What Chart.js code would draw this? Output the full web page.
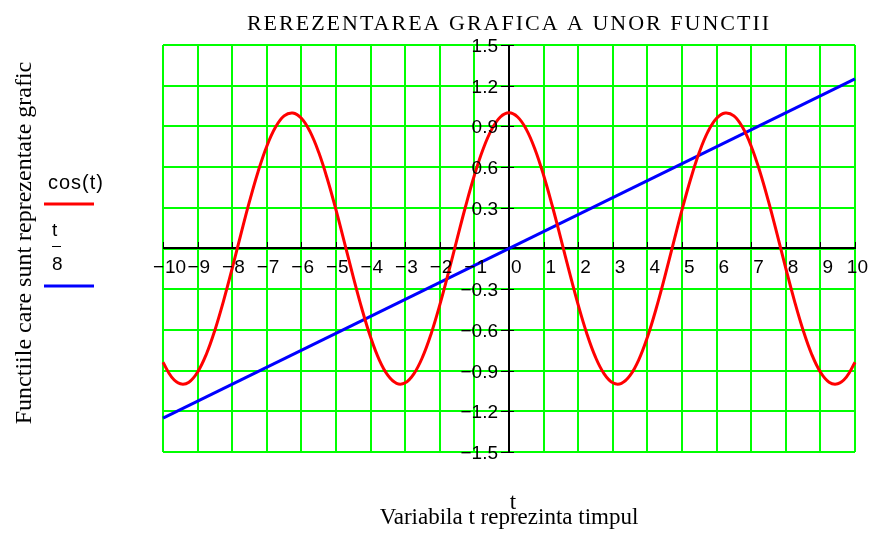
<!DOCTYPE html>
<html>
<head>
<meta charset="utf-8">
<title>Rerezentarea grafica a unor functii</title>
<script src="https://cdn.jsdelivr.net/npm/chart.js@4.4.0/dist/chart.umd.min.js"></script>
<style>
  html, body { margin: 0; padding: 0; background: #fff; }
  #plot { display: block; }
</style>
</head>
<body>
<canvas id="plot" width="872" height="538"></canvas>
<script>
// sample points of t and cos(t), step 0.25
const tSamples = [
  -10, -9.75, -9.5, -9.25, -9, -8.75, -8.5, -8.25, -8, -7.75,
  -7.5, -7.25, -7, -6.75, -6.5, -6.25, -6, -5.75, -5.5, -5.25,
  -5, -4.75, -4.5, -4.25, -4, -3.75, -3.5, -3.25, -3, -2.75,
  -2.5, -2.25, -2, -1.75, -1.5, -1.25, -1, -0.75, -0.5, -0.25,
  0,
  0.25, 0.5, 0.75, 1, 1.25, 1.5, 1.75, 2, 2.25, 2.5,
  2.75, 3, 3.25, 3.5, 3.75, 4, 4.25, 4.5, 4.75, 5,
  5.25, 5.5, 5.75, 6, 6.25, 6.5, 6.75, 7, 7.25, 7.5,
  7.75, 8, 8.25, 8.5, 8.75, 9, 9.25, 9.5, 9.75, 10
];
const cosValues = [
  -0.839, -0.948, -0.997, -0.985, -0.911, -0.781, -0.602, -0.386, -0.146, 0.104,
  0.347, 0.568, 0.754, 0.893, 0.977, 0.999, 0.960, 0.861, 0.709, 0.512,
  0.284, 0.038, -0.211, -0.446, -0.654, -0.821, -0.936, -0.994, -0.990, -0.924,
  -0.801, -0.628, -0.416, -0.178, 0.071, 0.315, 0.540, 0.732, 0.878, 0.969,
  1.000,
  0.969, 0.878, 0.732, 0.540, 0.315, 0.071, -0.178, -0.416, -0.628, -0.801,
  -0.924, -0.990, -0.994, -0.936, -0.821, -0.654, -0.446, -0.211, 0.038, 0.284,
  0.512, 0.709, 0.861, 0.960, 0.999, 0.977, 0.893, 0.754, 0.568, 0.347,
  0.104, -0.146, -0.386, -0.602, -0.781, -0.911, -0.985, -0.997, -0.948, -0.839
];
// t/8 straight line
const lineT = [-10, 10];
const lineValues = [-1.25, 1.25];

const xTickLabels = ['-10', '-9', '-8', '-7', '-6', '-5', '-4', '-3', '-2', '-1', '0',
                     '1', '2', '3', '4', '5', '6', '7', '8', '9', '10'];
const yTickLabels = ['1.5', '1.2', '0.9', '0.6', '0.3', '-0.3', '-0.6', '-0.9', '-1.2', '-1.5'];

const SERIF = '"Liberation Serif", "Times New Roman", serif';
const SANS = '"Liberation Sans", Arial, sans-serif';
const GRID_GREEN = '#00ff00';

// axes crossing at the origin, tick marks, labels and captions
const crossAxes = {
  id: 'crossAxes',
  beforeDatasetsDraw(chart) {
    const { ctx, chartArea: area, scales: { x, y } } = chart;
    const x0 = Math.round(x.getPixelForValue(0));
    const y0 = Math.round(y.getPixelForValue(0));
    ctx.save();
    ctx.strokeStyle = '#000';
    ctx.lineWidth = 2;
    ctx.beginPath();
    ctx.moveTo(area.left, y0 - 1);
    ctx.lineTo(area.right, y0 - 1);
    ctx.moveTo(x0, area.top);
    ctx.lineTo(x0, area.bottom);
    ctx.stroke();

    ctx.lineWidth = 1;
    ctx.beginPath();
    xTickLabels.forEach(lbl => {
      const px = Math.round(x.getPixelForValue(parseFloat(lbl))) + 0.5;
      ctx.moveTo(px, y0 - 7);
      ctx.lineTo(px, y0);
    });
    yTickLabels.forEach(lbl => {
      const py = Math.round(y.getPixelForValue(parseFloat(lbl))) + 0.5;
      ctx.moveTo(x0 - 8, py);
      ctx.lineTo(x0 + 5, py);
    });
    ctx.stroke();
    ctx.restore();
  },
  afterDraw(chart) {
    const { ctx, chartArea: area, scales: { x, y } } = chart;
    const x0 = Math.round(x.getPixelForValue(0));
    const y0 = Math.round(y.getPixelForValue(0));
    const cx = (area.left + area.right) / 2;
    ctx.save();
    ctx.fillStyle = '#000';

    // tick labels; the last one is pulled back so it stays on the canvas
    ctx.font = '19px ' + SANS;
    ctx.textBaseline = 'alphabetic';
    xTickLabels.forEach(lbl => {
      const v = parseFloat(lbl);
      const px = x.getPixelForValue(v);
      const digits = String(Math.abs(v));
      const w = ctx.measureText(digits).width;
      const left = Math.min(px + 2, area.right + 13 - w);
      ctx.textAlign = 'left';
      ctx.fillText(digits, left, y0 + 24);
      if (v < 0) {
        ctx.textAlign = 'right';
        ctx.fillText('\u2212', left - 1, y0 + 24);
      }
    });
    ctx.textAlign = 'right';
    yTickLabels.forEach(lbl => {
      const py = y.getPixelForValue(parseFloat(lbl));
      ctx.fillText(lbl.replace('-', '\u2212'), x0 - 11, py + 7);
    });

    // title
    ctx.font = '22px ' + SERIF;
    ctx.textAlign = 'center';
    ctx.letterSpacing = '2px';
    ctx.fillText('REREZENTAREA GRAFICA A UNOR FUNCTII', cx, 30);
    ctx.letterSpacing = '0px';

    // x caption
    ctx.font = '23px ' + SERIF;
    ctx.fillText('t', cx + 4, 509);
    ctx.fillText('Variabila t reprezinta timpul', cx, 524);

    // y caption
    ctx.save();
    ctx.font = '24px ' + SERIF;
    ctx.translate(31, 243);
    ctx.rotate(-Math.PI / 2);
    ctx.fillText('Functiile care sunt reprezentate grafic', 0, 0);
    ctx.restore();

    // legend
    ctx.textAlign = 'left';
    ctx.font = '20px ' + SANS;
    ctx.letterSpacing = '1px';
    ctx.fillText('cos(t)', 48, 189);
    ctx.letterSpacing = '0px';
    ctx.font = '19px ' + SANS;
    ctx.fillText('t', 52, 236);
    ctx.fillText('8', 52, 270);
    ctx.fillRect(52, 246, 9, 1);

    ctx.lineWidth = 3;
    ctx.strokeStyle = chart.data.datasets[0].borderColor;
    ctx.beginPath();
    ctx.moveTo(44, 204);
    ctx.lineTo(94, 204);
    ctx.stroke();
    ctx.strokeStyle = chart.data.datasets[1].borderColor;
    ctx.beginPath();
    ctx.moveTo(44, 286);
    ctx.lineTo(94, 286);
    ctx.stroke();
    ctx.restore();
  }
};

function createFunctionPlot() {
  const canvas = document.getElementById('plot');
  if (!canvas) return;

  new Chart(canvas, {
    type: 'scatter',
    data: {
      datasets: [{
        label: 'cos(t)',
        data: tSamples.map((t, i) => ({ x: t, y: cosValues[i] })),
        showLine: true,
        borderColor: '#ff0000',
        borderWidth: 3,
        pointRadius: 0,
        tension: 0.4,
        clip: false
      }, {
        label: 't/8',
        data: lineT.map((t, i) => ({ x: t, y: lineValues[i] })),
        showLine: true,
        borderColor: '#0000ff',
        borderWidth: 3,
        pointRadius: 0,
        clip: false
      }]
    },
    options: {
      responsive: false,
      animation: false,
      devicePixelRatio: 1,
      layout: { padding: { left: 163, top: 45, right: 17, bottom: 86 } },
      plugins: {
        legend: { display: false },
        title: { display: false },
        tooltip: { enabled: false }
      },
      scales: {
        x: {
          type: 'linear',
          min: -10,
          max: 10,
          ticks: { stepSize: 1, display: false },
          grid: { color: GRID_GREEN, lineWidth: 2, drawTicks: false },
          border: { display: false }
        },
        y: {
          type: 'linear',
          min: -1.5,
          max: 1.5,
          ticks: { stepSize: 0.3, display: false },
          grid: { color: GRID_GREEN, lineWidth: 2, drawTicks: false },
          border: { display: false }
        }
      }
    },
    plugins: [crossAxes]
  });
}

document.addEventListener('DOMContentLoaded', createFunctionPlot);
</script>
</body>
</html>
